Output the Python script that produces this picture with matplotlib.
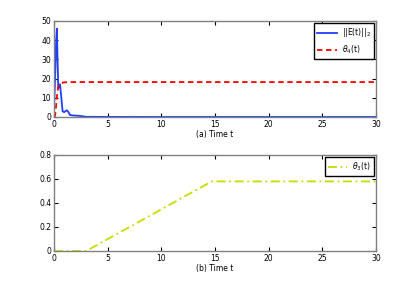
import matplotlib.pyplot as plt
import numpy as np

# blue error norm
t_err = [0, 0.1, 0.2, 0.27, 0.33, 0.4, 0.48, 0.56, 0.65, 0.8, 0.95, 1.1, 1.2, 1.35, 1.5, 1.8, 2.4, 3.0, 5, 10, 20, 30]
err = [4, 20, 40, 46, 30, 15, 16, 17, 12, 3, 2.5, 3.2, 3.5, 2.5, 1, 0.8, 0.6, 0.1, 0.05, 0.02, 0.01, 0.01]

# red theta_4
t_th4 = [0, 0.1, 0.2, 0.3, 0.4, 0.55, 0.85, 1.5, 30]
th4 = [0, 0.5, 6, 12, 16, 17, 18, 18.2, 18.2]

# green theta_3
t_th3 = [0, 3.0, 14.7, 30]
th3 = [0, 0, 0.58, 0.58]

grey = '#808080'
plt.rcParams['font.size'] = 5.5

fig = plt.figure(figsize=(4.15, 2.82), dpi=100)
ax1 = fig.add_axes([54/415, 1 - 117/282, 322/415, 96/282])
ax2 = fig.add_axes([54/415, 1 - 251/282, 322/415, 96/282])

ax1.plot(t_err, err, color='#1f3fff', lw=1.3, label=r'||E(t)||$_2$')
ax1.plot(t_th4, th4, color='red', lw=1.3, ls=(0, (3, 2)), label=r'$\theta_4$(t)')
ax1.set_xlim(0, 30)
ax1.set_ylim(0, 50)
ax1.set_yticks([0, 10, 20, 30, 40, 50])
ax1.set_xlabel('(a) Time t', labelpad=1)
ax1.legend(loc='upper right', fancybox=False, edgecolor='black', framealpha=1,
           handlelength=2.6, handletextpad=0.6, borderaxespad=0.3, labelspacing=0.6)

ax2.plot(t_th3, th3, color='#c8dc00', lw=1.3, ls=(0, (5, 2, 1, 2)), label=r'$\theta_3$(t)')
ax2.set_xlim(0, 30)
ax2.set_ylim(0, 0.8)
ax2.set_yticks([0, 0.2, 0.4, 0.6, 0.8])
ax2.set_yticklabels(['0', '0.2', '0.4', '0.6', '0.8'])
ax2.set_xlabel('(b) Time t', labelpad=1)
ax2.legend(loc='upper right', fancybox=False, edgecolor='black', framealpha=1,
           handlelength=2.6, handletextpad=0.6, borderaxespad=0.3)

for ax in (ax1, ax2):
    for s in ax.spines.values():
        s.set_color(grey)
        s.set_linewidth(1)
    ax.tick_params(direction='in', length=3, colors='black', pad=2)
    ax.tick_params(which='both', top=True, right=True)
    for line in ax.get_xticklines() + ax.get_yticklines():
        line.set_color(grey)

fig.savefig('out.png', dpi=100)
